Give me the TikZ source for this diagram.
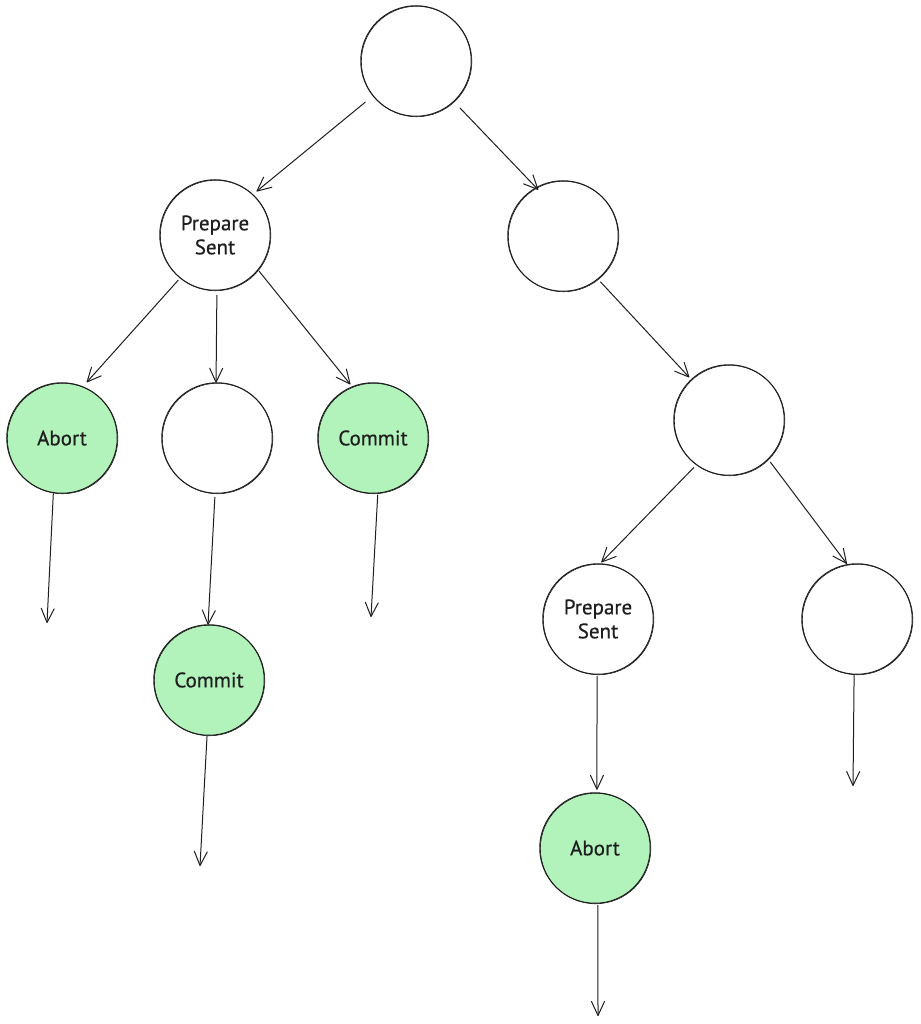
\documentclass[tikz,border=0pt]{standalone}
\usepackage{fontspec}
\setmainfont[BoldFont={PT Sans},BoldFeatures={FakeBold=0.5}]{PT Sans}
\usetikzlibrary{arrows.meta}
\definecolor{ink}{HTML}{1E1E1E}
\definecolor{mint}{HTML}{B2F2BB}
\tikzset{
  state/.style={circle,draw=ink,line width=1pt,minimum size=110.5pt,inner sep=0pt,outer sep=0pt,
    text=ink,font=\fontsize{21}{24}\selectfont\bfseries,align=center,
    postaction={draw=ink,line width=0.6pt,transform canvas={xshift=0.6pt,yshift=-0.5pt}}},
  done/.style={state,fill=mint},
  link/.style={draw=ink,line width=1pt,line cap=round,
    -{Straight Barb[length=14pt,width=13pt,line width=1pt,round]}}
}
\begin{document}
\begin{tikzpicture}[x=1pt,y=-1pt]
\useasboundingbox[fill=white] (0,0) rectangle (920,1024);
\node[state] (root) at (416,61) {};
\node[state] (p1) at (215,235) {Prepare\\Sent};
\node[state] (r1) at (563,236) {};
\node[done]  (a) at (62,438) {Abort};
\node[state] (b) at (217,438) {};
\node[done]  (c) at (373,438) {Commit};
\node[state] (d) at (729,420) {};
\node[done]  (e) at (209,680) {Commit};
\node[state] (f) at (598,619) {Prepare\\Sent};
\node[state] (g) at (857,619) {};
\node[done]  (h) at (595,848) {Abort};
\coordinate (a1) at (47,623);
\coordinate (c1) at (371,617);
\coordinate (e1) at (200,866);
\coordinate (g1) at (853,786);
\coordinate (h1) at (598,1016);
\draw[link,shorten <=10pt,shorten >=5pt] (root.219) -- (p1.47);
\draw[link,shorten <=9pt,shorten >=-3pt] (root.-47) -- (r1.119);
\draw[link,shorten <=3pt,shorten >=6pt] (p1.231) -- (a.68);
\draw[link,shorten <=5pt] (p1.-88) -- (b.91);
\draw[link,shorten <=2pt,shorten >=3pt] (p1.-39) -- (c.112);
\draw[link,shorten <=1pt] (a.-99) -- (a1);
\draw[link,shorten <=4pt] (b.-92) -- (e.91);
\draw[link,shorten <=2pt] (c.-85) -- (c1);
\draw[link,shorten <=1pt] (e.-92) -- (e1);
\draw[link,shorten <=4pt,shorten >=3pt] (r1.-51) -- (d.133);
\draw[link,shorten <=4pt,shorten >=2pt] (d.-126) -- (f.88);
\draw[link,shorten <=4pt,shorten >=1pt] (d.-45) -- (g.100);
\draw[link,shorten <=2pt,shorten >=3pt] (f.-91) -- (h.88);
\draw[link,shorten <=1pt] (g.-93) -- (g1);
\draw[link,shorten <=2pt] (h.-87) -- (h1);
\end{tikzpicture}
\end{document}
